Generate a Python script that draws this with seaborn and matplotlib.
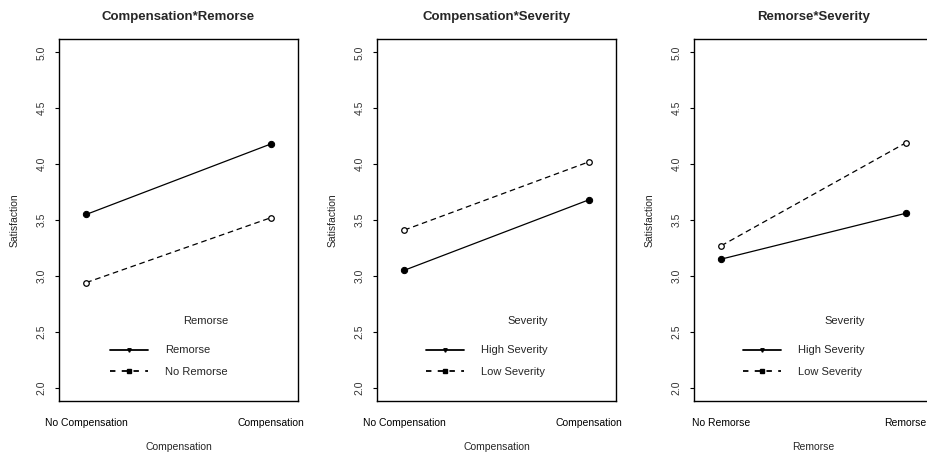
import pandas as pd
import seaborn as sns
import matplotlib.pyplot as plt
from matplotlib.lines import Line2D

# --- Data ---
titles = ["Compensation*Remorse", "Compensation*Severity", "Remorse*Severity"]
x_labels = ["Compensation", "Compensation", "Remorse"]
x_levels = [["No Compensation", "Compensation"],
            ["No Compensation", "Compensation"],
            ["No Remorse", "Remorse"]]
legend_titles = ["Remorse", "Severity", "Severity"]
group_names = [["Remorse", "No Remorse"],
               ["High Severity", "Low Severity"],
               ["High Severity", "Low Severity"]]
solid_vals = [[3.55, 4.18], [3.05, 3.68], [3.15, 3.56]]
dashed_vals = [[2.94, 3.52], [3.41, 4.02], [3.27, 4.19]]
y_ticks = [2.0, 2.5, 3.0, 3.5, 4.0, 4.5, 5.0]

# --- Style ---
sns.set_theme(style="white")
plt.rcParams["font.family"] = ["Liberation Sans", "DejaVu Sans"]

W, H = 928, 457
fig = plt.figure(figsize=(W / 100, H / 100), dpi=100)
lefts = [59, 377, 694]
ax_w, top, bottom = 239, 39, 401

for i in range(3):
    ax = fig.add_axes([lefts[i] / W, 1 - bottom / H, ax_w / W, (bottom - top) / H])
    df = pd.DataFrame({
        "x": x_levels[i] * 2,
        "y": solid_vals[i] + dashed_vals[i],
        "group": [group_names[i][0]] * 2 + [group_names[i][1]] * 2,
    })
    d1 = df[df["group"] == group_names[i][0]]
    d2 = df[df["group"] == group_names[i][1]]
    sns.lineplot(data=d1, x="x", y="y", ax=ax, color="black", linewidth=0.9,
                 marker="o", markersize=4.5, markerfacecolor="black",
                 markeredgecolor="black", sort=False, legend=False)
    sns.lineplot(data=d2, x="x", y="y", ax=ax, color="black", linewidth=0.9,
                 linestyle=(0, (4.5, 3)), marker="o", markersize=4,
                 markerfacecolor="white", markeredgecolor="black",
                 markeredgewidth=0.9, sort=False, legend=False)

    ax.set_xlim(-0.148, 1.148)
    ax.set_ylim(1.88, 5.12)
    ax.set_yticks(y_ticks)
    ax.set_yticklabels([f"{t:.1f}" for t in y_ticks], rotation=90, va="center",
                       fontsize=7.5, color="#333333")
    ax.tick_params(axis="y", direction="out", length=3, width=0.8, left=True,
                   pad=6, color="black")
    ax.tick_params(axis="x", length=0, pad=12, labelsize=7.5, labelcolor="black")
    for s in ax.spines.values():
        s.set_color("black")
        s.set_linewidth(1.0)
    ax.set_xlabel(x_labels[i], fontsize=7.5, labelpad=10)
    ax.set_ylabel("Satisfaction", fontsize=7.5, labelpad=12)
    ax.set_title(titles[i], fontsize=9.5, fontweight="bold", pad=14)

    handles = [
        Line2D([], [], color="black", linewidth=1.3, marker="v", markersize=2.5),
        Line2D([], [], color="black", linewidth=1.3, linestyle=(0, (3, 3.5)),
               marker="s", markersize=3.5),
    ]
    leg = ax.legend(handles, group_names[i], title=legend_titles[i], frameon=False,
                    loc="lower center", bbox_to_anchor=(0.46, 0.04),
                    fontsize=8, title_fontsize=8, handlelength=3.4,
                    handletextpad=1.6, labelspacing=1.0)
    leg._legend_box.align = "right"
    leg._legend_box.sep = 14

fig.savefig("out.png", dpi=100)
